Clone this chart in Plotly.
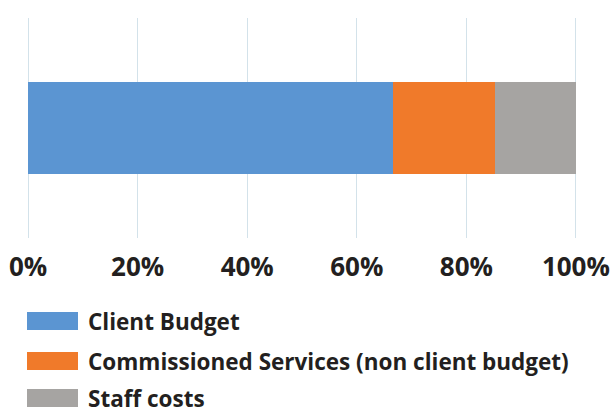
import plotly.graph_objects as go

# Data
categories = ["Spend"]
series_names = ["Client Budget", "Commissioned Services (non client budget)", "Staff costs"]
client_budget = [66.7]
commissioned = [18.6]
staff_costs = [14.7]
series_values = [client_budget, commissioned, staff_costs]
tick_values = [0, 20, 40, 60, 80, 100]
tick_labels = ["0%", "20%", "40%", "60%", "80%", "100%"]

colors = ["#5b95d2", "#f07a2a", "#a6a4a2"]

W, H = 611, 414
L, R, T, B = 27, 34, 18, 176
plot_w = W - L - R
plot_h = H - T - B

fig = go.Figure()
for name, vals, col in zip(series_names, series_values, colors):
    fig.add_trace(go.Bar(
        y=categories, x=vals, name=name, orientation="h",
        marker=dict(color=col, line=dict(width=0)),
        width=0.42, showlegend=False,
    ))

def px_x(px):
    return (px - L) / plot_w

def px_y(py):
    return (H - B - py) / plot_h

# Manual legend
shapes = []
annotations = []
row_centers = [321, 361, 398]
for name, col, cy in zip(series_names, colors, row_centers):
    shapes.append(dict(type="rect", xref="paper", yref="paper",
                       x0=px_x(27), x1=px_x(78), y0=px_y(cy + 9), y1=px_y(cy - 9),
                       fillcolor=col, line=dict(width=0)))
    annotations.append(dict(xref="paper", yref="paper", x=px_x(87), y=px_y(cy),
                            xanchor="left", yanchor="middle", showarrow=False,
                            text=name, borderpad=0,
                            font=dict(family="Open Sans", size=22.5, color="#231f20", weight="bold")))

fig.update_layout(
    width=W, height=H,
    margin=dict(l=L, r=R, t=T, b=B, autoexpand=False),
    paper_bgcolor="white", plot_bgcolor="white",
    barmode="stack",
    bargap=0,
    shapes=shapes, annotations=annotations,
    xaxis=dict(range=[-0.2, 100.2], tickvals=tick_values, ticktext=tick_labels,
               showgrid=True, gridcolor="#d3e2ea", gridwidth=1, zeroline=False,
               showline=False, ticks="outside", ticklen=6, tickcolor="rgba(0,0,0,0)",
               tickfont=dict(family="Open Sans", size=26, color="#231f20", weight="bold"),
               ticklabeloverflow="allow",
               automargin=False, fixedrange=True),
    yaxis=dict(range=[-0.5, 0.5], showticklabels=False, showgrid=False,
               zeroline=False, showline=False, automargin=False, fixedrange=True),
)

fig.write_html("out.html", config={"displayModeBar": False},
               post_script="document.body.style.margin='0';")
